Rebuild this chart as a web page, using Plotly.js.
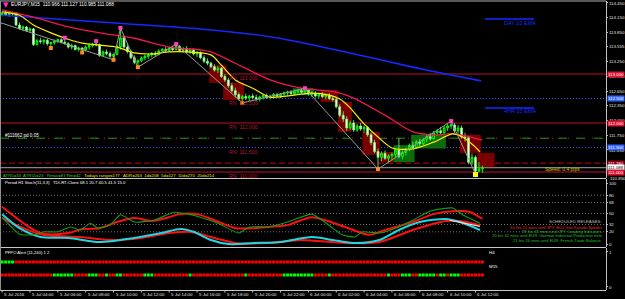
<!DOCTYPE html>
<html><head><meta charset="utf-8">
<script src="https://cdn.plot.ly/plotly-3.0.1.min.js"></script>
<style>html,body{margin:0;padding:0;background:#000;overflow:hidden}#chart{width:625px;height:299px}</style>
</head><body><div id="chart"></div>
<script>
// ---------- price data (EURJPY M15) ----------
const open = [114.22,114.24,114.21,114.23,114.24,114.00,113.93,113.96,113.89,113.92,
113.60,113.68,113.66,113.69,113.62,113.64,113.67,113.70,113.65,113.62,
113.55,113.58,113.50,113.53,113.49,113.55,113.58,113.61,113.60,113.38,
113.45,113.42,113.36,113.40,113.56,113.74,113.55,113.46,113.33,113.24,
113.27,113.33,113.36,113.39,113.42,113.40,113.47,113.50,113.48,113.53,
113.50,113.56,113.48,113.52,113.45,113.50,113.41,113.44,113.33,113.26,
113.22,113.15,113.08,113.12,112.95,112.88,112.76,112.66,112.58,112.50,
112.54,112.51,112.55,112.52,112.49,112.53,112.56,112.52,112.55,112.58,
112.55,112.59,112.61,112.63,112.60,112.64,112.66,112.63,112.67,112.59,
112.61,112.55,112.58,112.54,112.57,112.50,112.48,112.33,112.16,112.08,
111.90,112.00,111.86,111.94,111.88,111.91,111.76,111.60,111.42,111.30,
111.38,111.28,111.33,111.36,111.45,111.32,111.40,111.46,111.54,111.50,
111.62,111.58,111.66,111.72,111.68,111.80,111.84,111.80,111.90,111.94,
111.96,111.84,111.90,111.72,111.70,111.20,111.30,111.02,111.066];
const high = [114.27,114.28,114.26,114.27,114.26,114.05,113.99,113.98,113.95,113.94,
113.72,113.74,113.71,113.72,113.66,113.70,113.72,113.73,113.74,113.65,
113.62,113.60,113.56,113.55,113.58,113.61,113.64,113.67,113.62,113.48,
113.50,113.46,113.42,113.60,113.94,113.78,113.62,113.50,113.38,113.30,
113.36,113.40,113.42,113.45,113.47,113.50,113.53,113.55,113.56,113.58,
113.61,113.59,113.55,113.57,113.53,113.53,113.47,113.46,113.38,113.32,
113.25,113.20,113.16,113.14,113.00,112.92,112.82,112.72,112.62,112.58,
112.60,112.57,112.60,112.58,112.56,112.59,112.60,112.58,112.61,112.62,
112.61,112.64,112.66,112.67,112.66,112.68,112.70,112.71,112.69,112.64,
112.65,112.62,112.63,112.60,112.61,112.56,112.52,112.38,112.24,112.14,
112.05,112.06,111.98,112.00,111.95,111.94,111.80,111.66,111.48,111.42,
111.44,111.36,111.40,111.48,111.69,111.44,111.50,111.58,111.62,111.66,
111.68,111.70,111.76,111.80,111.84,111.88,111.92,111.94,111.98,112.04,
112.00,111.96,111.95,111.80,111.74,111.38,111.34,111.20,111.127];
const low = [114.18,114.20,114.17,114.19,113.98,113.90,113.88,113.86,113.85,113.57,
113.58,113.62,113.60,113.58,113.53,113.60,113.63,113.62,113.60,113.52,
113.50,113.48,113.46,113.44,113.46,113.50,113.54,113.56,113.35,113.36,
113.38,113.33,113.29,113.38,113.50,113.52,113.42,113.30,113.20,113.14,
113.24,113.28,113.31,113.34,113.36,113.38,113.43,113.44,113.45,113.47,
113.48,113.45,113.44,113.42,113.41,113.38,113.35,113.30,113.22,113.18,
113.12,113.05,113.02,112.92,112.84,112.72,112.62,112.52,112.46,112.41,
112.47,112.44,112.48,112.45,112.44,112.48,112.49,112.48,112.50,112.52,
112.51,112.54,112.56,112.57,112.57,112.59,112.60,112.59,112.56,112.53,
112.52,112.50,112.51,112.48,112.47,112.44,112.30,112.12,112.02,111.84,
111.86,111.82,111.82,111.84,111.80,111.72,111.55,111.38,111.06,111.22,
111.25,111.20,111.24,111.30,111.28,111.26,111.34,111.42,111.46,111.47,
111.52,111.55,111.60,111.64,111.66,111.74,111.76,111.78,111.84,111.88,
111.80,111.78,111.68,111.62,111.16,111.14,110.96,110.99,110.985];
const close = [114.24,114.21,114.23,114.24,114.00,113.93,113.96,113.89,113.92,113.60,
113.68,113.66,113.69,113.62,113.64,113.67,113.70,113.65,113.62,113.55,
113.58,113.50,113.53,113.49,113.55,113.58,113.61,113.60,113.38,113.45,
113.42,113.36,113.40,113.56,113.74,113.55,113.46,113.33,113.24,113.27,
113.33,113.36,113.39,113.42,113.40,113.47,113.50,113.48,113.53,113.50,
113.56,113.48,113.52,113.45,113.50,113.41,113.44,113.33,113.26,113.22,
113.15,113.08,113.12,112.95,112.88,112.76,112.66,112.58,112.50,112.54,
112.51,112.55,112.52,112.49,112.53,112.56,112.52,112.55,112.58,112.55,
112.59,112.61,112.63,112.60,112.64,112.66,112.63,112.67,112.59,112.61,
112.55,112.58,112.54,112.57,112.50,112.48,112.33,112.16,112.08,111.90,
112.00,111.86,111.94,111.88,111.91,111.76,111.60,111.42,111.30,111.38,
111.28,111.33,111.36,111.45,111.32,111.40,111.46,111.54,111.50,111.62,
111.58,111.66,111.72,111.68,111.80,111.84,111.80,111.90,111.94,111.96,
111.84,111.90,111.72,111.70,111.20,111.30,111.02,111.066,111.088];

// moving averages (bar index, price)
const yellowX = [0,5,9,14,19,23,28,33,38,43,48,53,60,63,67,72,77,84,89,94,97,100,103.5,108.4,112,118,124,129.5,132.4,135.3,137.3];
const yellowY = [114.27,114.20,114.00,113.84,113.71,113.63,113.59,113.55,113.43,113.41,113.45,113.45,113.39,113.18,112.88,112.71,112.53,112.57,112.61,112.57,112.49,112.31,112.02,111.69,111.49,111.47,111.61,111.78,111.71,111.55,111.41];
const redX = [0,9,19,28,38,48,57,60,67,77,86,96,101,110,118,124,130,138];
const redY = [114.31,114.16,113.96,113.84,113.73,113.55,113.49,113.45,113.22,112.88,112.71,112.63,112.51,112.16,111.82,111.76,111.78,111.65];
const blueX = [0,28,57,77,96,118,127.5,137.6];
const blueY = [114.20,114.06,113.92,113.76,113.49,113.14,113.00,112.86];
// zigzag and fractals
const zzX = [-1,32,34,39,50,69,87,108,129,136];
const zzY = [114.06,113.29,113.94,113.14,113.61,112.41,112.71,111.06,112.04,110.96];
const fdX = [14,23,32,39,69,108];
const fdY = [113.53,113.44,113.29,113.14,112.41,111.06];
const fuX = [18,27,34,50,87,129];
const fuY = [113.74,113.67,113.94,113.61,112.71,112.04];
const lastLowX = [136], lastLowY = [110.95];
// boxes
const boxStart = [60,64,84,92,97,104,109,113,118,132,137];
const boxEnd   = [64,69,89,96,100,108,112,118,127,137,141];
const boxTop   = [113.18,112.82,112.71,112.67,112.43,111.82,111.41,111.55,111.76,111.76,111.39];
const boxBot   = [112.82,112.47,112.57,112.43,111.82,111.35,111.20,111.20,111.48,111.39,111.10];
const boxKind  = ['r','r','g','r','r','r','r','g','g','r','r'];
// levels
const roundLevels = [113.0,112.0,111.0];
const halfLevels = [112.5,111.5];
const rnLabels = [113.0,112.5,112.0,111.5,111.0];
const pivotLevel = 111.69, dashLevel = 111.18, bidLevel = 111.088;
const mainTicks = [114.450,114.150,113.850,113.555,113.250,112.950,112.650,112.350,112.050,111.750,111.450];
const tagPrices = [113.0,112.5,112.0,111.5,111.18,111.088,111.0];
const tagText = ['113.000','112.500','112.000','111.500','111.180','111.088','111.000'];
const tagBg = ['#e0102e','#3366ff','#e0102e','#3366ff','#900010','#ffffff','#e0102e'];
const tagFg = ['#fff','#fff','#fff','#fff','#fff','#000','#fff'];
// stochastic / TDI
const srX = [0,11,19,23,28,33,38,43,48,51,56,61,67,72.5,76.6,82,89,98.5,105.5,110,118,124,131.5,134.4,138];
const srY = [61,18,18,24.6,26,36,42.6,37.7,44,49,49,39,26,26,28,31,44,28,15,23,36,49,54,52.5,41];
const sgX = [0,5,9,12,16,19.7,22.5,25.4,27.5,31,34,38,43.6,49.4,53.5,57,62,68,71,76.6,82,89,95,97.7,101.4,103.5,108.4,113,118,123,129.5,132.4,137.3];
const sgY = [44,16,15,20,20,28,23,34,26,31,48,36,39,52,49,44,34,18,28,28,36,49,26,15,11.5,20,18,26,39,54,59,47.5,34];
const scX = [0,5,11,19,28,38,45.7,51.4,55,60,65,72.5,80,89,95,101.4,108.4,114,120,127.5,131.5,137.3];
const scY = [49,26,11.5,10,3.3,10,18,24.6,20,6.6,0,1.6,3.3,11.5,6.6,1.6,6.6,23,36,41,36,23];
const slX = [0,11,22.5,31,40,48,54,61,67,76.6,86,98.5,108.4,118,127.5,131.5,137.3];
const slY = [42.6,16,11.5,6.6,10,18,20,10,1.6,1.6,6.6,1.6,3.3,23,37.7,37.7,31];
const spX = [128.6,137.3], spY = [39,29];
const stochLevels = [80,68,50,32,20];
const stochTicks = [100,80,68,50,32,20,0];
// alert dots
const h4Green = [[0,3]];
const m15Green = [[15,20],[25,27],[30,30],[33,34],[41,43],[54,54],[70,70],[81,89],[94,94],[111,111],[115,117],[120,124],[126,127],[129,131]];
// time axis
const timeBars = [0,8,16,24,32,40,48,56,64,72,80,88,96,104,112,120,128,136];
const timeLabels = ["5 Jul 2016","5 Jul 04:00","5 Jul 06:00","5 Jul 08:00","5 Jul 10:00","5 Jul 12:00","5 Jul 14:00","5 Jul 16:00","5 Jul 18:00","5 Jul 20:00","5 Jul 22:00","6 Jul 00:00","6 Jul 02:00","6 Jul 04:00","6 Jul 06:00","6 Jul 08:00","6 Jul 10:00","6 Jul 12:00"];

// ---------- build ----------
const W=625,H=299;
const px = x => x/W, py = y => 1 - y/H;
const XEND = 606/W;
const FONT = 'Liberation Sans, Arial, sans-serif';
const bars = close.map((_, i) => i);

const traces = [];
traces.push({type:'candlestick', x:bars, open, high, low, close, xaxis:'x', yaxis:'y',
  whiskerwidth:0, hoverinfo:'skip',
  increasing:{line:{color:'#00ff00',width:1}, fillcolor:'#007000'},
  decreasing:{line:{color:'#80ff80',width:0.8}, fillcolor:'#ffffff'}});
const line = (x,y,color,width,ax,smooth) => ({type:'scatter',mode:'lines',x,y,yaxis:ax,xaxis:'x',
  line:{color,width,shape:'spline',smoothing:smooth||0.8},hoverinfo:'skip'});
traces.push(line(blueX,blueY,'#1428ff',1.6,'y'));
traces.push(line(redX,redY,'#f01848',1.3,'y'));
traces.push(line(yellowX,yellowY,'#ffee00',1.2,'y'));
traces.push({type:'scatter',mode:'lines',x:zzX,y:zzY,xaxis:'x',yaxis:'y',line:{color:'#9a9a9a',width:1},hoverinfo:'skip'});
traces.push({type:'scatter',mode:'markers',x:fdX,y:fdY,xaxis:'x',yaxis:'y',marker:{color:'#ff8a20',size:4,symbol:'square'},hoverinfo:'skip'});
traces.push({type:'scatter',mode:'markers',x:fuX,y:fuY,xaxis:'x',yaxis:'y',marker:{color:'#ff40c8',size:4,symbol:'square'},hoverinfo:'skip'});
traces.push({type:'scatter',mode:'markers',x:lastLowX,y:lastLowY,xaxis:'x',yaxis:'y',marker:{color:'#ffff00',size:5,symbol:'square'},hoverinfo:'skip'});
// stoch panel
traces.push(line(slX,slY,'#ff1010',2,'y2'));
traces.push(line(scX,scY,'#20d8e0',2,'y2'));
traces.push(line(srX,srY,'#ff1010',2,'y2'));
traces.push(line(spX,spY,'#ffd8d8',1.2,'y2'));
traces.push(line(sgX,sgY,'#10a010',1.1,'y2',0.5));
// dots
const inRanges = (i, rs) => rs.some(r => i>=r[0] && i<=r[1]);
traces.push({type:'scatter',mode:'markers',x:bars,y:bars.map(()=>0.714),xaxis:'x',yaxis:'y3',hoverinfo:'skip',
  marker:{symbol:'square',size:3,line:{width:0},color:bars.map(i=>inRanges(i,h4Green)?'#00ff00':'#ff0000')}});
traces.push({type:'scatter',mode:'markers',x:bars,y:bars.map(()=>0.343),xaxis:'x',yaxis:'y3',hoverinfo:'skip',
  marker:{symbol:'square',size:3,line:{width:0},color:bars.map(i=>inRanges(i,m15Green)?'#00ff00':'#ff0000')}});

const shapes = [];
boxStart.forEach((s,k)=>shapes.push({type:'rect',xref:'x',yref:'y',x0:s-0.5,x1:boxEnd[k]+0.5,y0:boxBot[k],y1:boxTop[k],
  fillcolor:boxKind[k]==='r'?'#7a0000':'#0d6a0d',line:{width:0},layer:'below'}));
const hl = (y,color,dash,width,ref) => shapes.push({type:'line',xref:'paper',yref:ref||'y',x0:0,x1:XEND,y0:y,y1:y,line:{color,dash:dash||'solid',width:width||1},layer:'below'});
roundLevels.forEach(v=>hl(v,'#c0102c'));
halfLevels.forEach(v=>hl(v,'#3050ff','1px,2px'));
hl(pivotLevel,'#1a9a1a','dash');
hl(pivotLevel,'#d02020','1px,7px');
hl(dashLevel,'#c00010','6px,3px');
hl(bidLevel,'#a8a8a8');
stochLevels.forEach(v=>hl(v,'#707070','1px,2px',1,'y2'));
// frame / separators
const ph = (y,color) => shapes.push({type:'line',xref:'paper',yref:'paper',x0:0,x1:XEND,y0:py(y),y1:py(y),line:{color,width:1}});
ph(1,'#b0b0b0'); ph(178.5,'#c8c8c8'); ph(247.5,'#c8c8c8'); ph(290.5,'#c8c8c8');
shapes.push({type:'line',xref:'paper',yref:'paper',x0:px(0.5),x1:px(0.5),y0:py(1),y1:py(290.5),line:{color:'#909090',width:1}});
shapes.push({type:'line',xref:'paper',yref:'paper',x0:px(485),x1:px(534),y0:py(19),y1:py(19),line:{color:'#1428ff',width:1.5}});
shapes.push({type:'line',xref:'paper',yref:'paper',x0:px(485),x1:px(534),y0:py(108),y1:py(108),line:{color:'#1428ff',width:1.5}});
timeBars.forEach(b=>shapes.push({type:'line',xref:'x',yref:'paper',x0:b,x1:b,y0:py(290.5),y1:py(292.5),line:{color:'#c8c8c8',width:1}}));

const ann = [];
const T = (x,y,text,color,size,anchor) => ann.push({xref:'paper',yref:'paper',x:px(x),y:py(y),text,showarrow:false,
  xanchor:anchor||'left',yanchor:'middle',font:{family:FONT,size:size||5,color:color||'#ffffff'}});
const sp = (c,t) => '<span style="color:'+c+'">'+t+'</span>';
T(9,4.5,'EURJPY,M15  110.966 111.127 110.985 111.088','#ffffff',4.8);
ann.push({xref:'paper',yref:'paper',x:px(1),y:py(5),text:'▼',showarrow:false,xanchor:'left',yanchor:'middle',font:{family:'DejaVu Sans',size:7,color:'#ff30c0'}});
T(502,23,'DAY 10 EMA','#1a2aff',5.5);
T(502,111.5,'4HR 10 EMA','#1a2aff',5.5);
T(3,135.5,'#111662 pd 0.05','#ffffff',4.6);
const G='#20d020', Y='#e6e600';
T(1,175.5, sp(G,'ATR5=33')+'  '+sp(G,'ATR55=23')+'   '+sp(G,'Rmax=87 Rm=42')+'   '+sp(Y,'Todays range=177')+'   '+sp(Y,'ADR=263')+'  '+sp(Y,'1d=208')+'  '+sp(Y,'5d=127')+'  '+sp(Y,'10d=270')+'  '+sp(Y,'20d=214'),'#ffffff',4.3);
T(543,169,'Speed: 0.4 pips','#c8c800',5);
T(3,182.5,'Period H1 Stoch(11,3,3)   TDI-RT-Clone 68.1 20.7 40.5 41.5 15.0','#ffffff',4.2);
T(604,222,'SCHEDULED RELEASES:','#bdbdbd',4.4,'right');
T(604,227,'15 hrs 21 mins until JPY: BOJ Gov Kuroda Speaks','#ff2020',4.1,'right');
T(604,231.3,'19 hrs 41 mins until JPY: Leading Indicators','#20c020',4.1,'right');
T(604,235.6,'20 hrs 41 mins until EUR: German Industrial Production m/m','#20c020',4.1,'right');
T(604,240,'21 hrs 26 mins until EUR: French Trade Balance','#20c020',4.1,'right');
T(3,252.5,'PFPO Alert (11,240) 1 2','#ffffff',4.2);
T(487,252.5,'H4','#ffffff',4.4);
T(487,266,'M15','#ffffff',4.4);
T(608,178.5,'110.850','#e0e0e0',4.4);
rnLabels.forEach(v=>ann.push({xref:'paper',yref:'y',x:px(227),y:v,yshift:-4,text:'RN  '+v.toFixed(3),showarrow:false,
  xanchor:'left',yanchor:'middle',font:{family:FONT,size:5.2,color:'#b01838'}}));
tagPrices.forEach((v,k)=>ann.push({xref:'paper',yref:'y',x:px(607),y:v,text:tagText[k],showarrow:false,xanchor:'left',yanchor:'middle',
  bgcolor:tagBg[k],borderpad:0,font:{family:FONT,size:4.4,color:tagFg[k]}}));
timeBars.forEach((b,k)=>ann.push({xref:'x',yref:'paper',x:b,y:py(294.5),text:timeLabels[k],showarrow:false,xanchor:'left',yanchor:'middle',
  font:{family:FONT,size:4.4,color:'#e0e0e0'}}));

const yBase = {side:'right',anchor:'x',showgrid:false,zeroline:false,showline:true,linecolor:'#c0c0c0',linewidth:1,
  ticks:'outside',ticklen:1,tickcolor:'#c0c0c0',ticklabelstandoff:0,tickfont:{family:FONT,size:4.4,color:'#e0e0e0'},fixedrange:true};
const layout = {
  width:W,height:H,margin:{l:0,r:0,t:0,b:0,pad:0},paper_bgcolor:'#000000',plot_bgcolor:'#000000',
  showlegend:false,hovermode:false,boxgap:0.25,
  xaxis:{domain:[0,XEND],range:[-0.61,173.5],showgrid:false,zeroline:false,showticklabels:false,showline:false,ticks:'',
    rangeslider:{visible:false},fixedrange:true},
  yaxis:Object.assign({},yBase,{domain:[1-178/H,1-1/H],range:[110.878,114.490],tickvals:mainTicks,ticktext:mainTicks.map(v=>v.toFixed(3))}),
  yaxis2:Object.assign({},yBase,{domain:[1-247/H,1-179/H],range:[-4.9,106.6],tickvals:stochTicks,ticktext:stochTicks.map(String)}),
  yaxis3:Object.assign({},yBase,{domain:[1-290/H,1-248/H],range:[-0.086,1.114],tickvals:[1,0],ticktext:['1','0']}),
  shapes, annotations:ann
};
Plotly.newPlot('chart',traces,layout,{staticPlot:true,displayModeBar:false});
</script></body></html>
